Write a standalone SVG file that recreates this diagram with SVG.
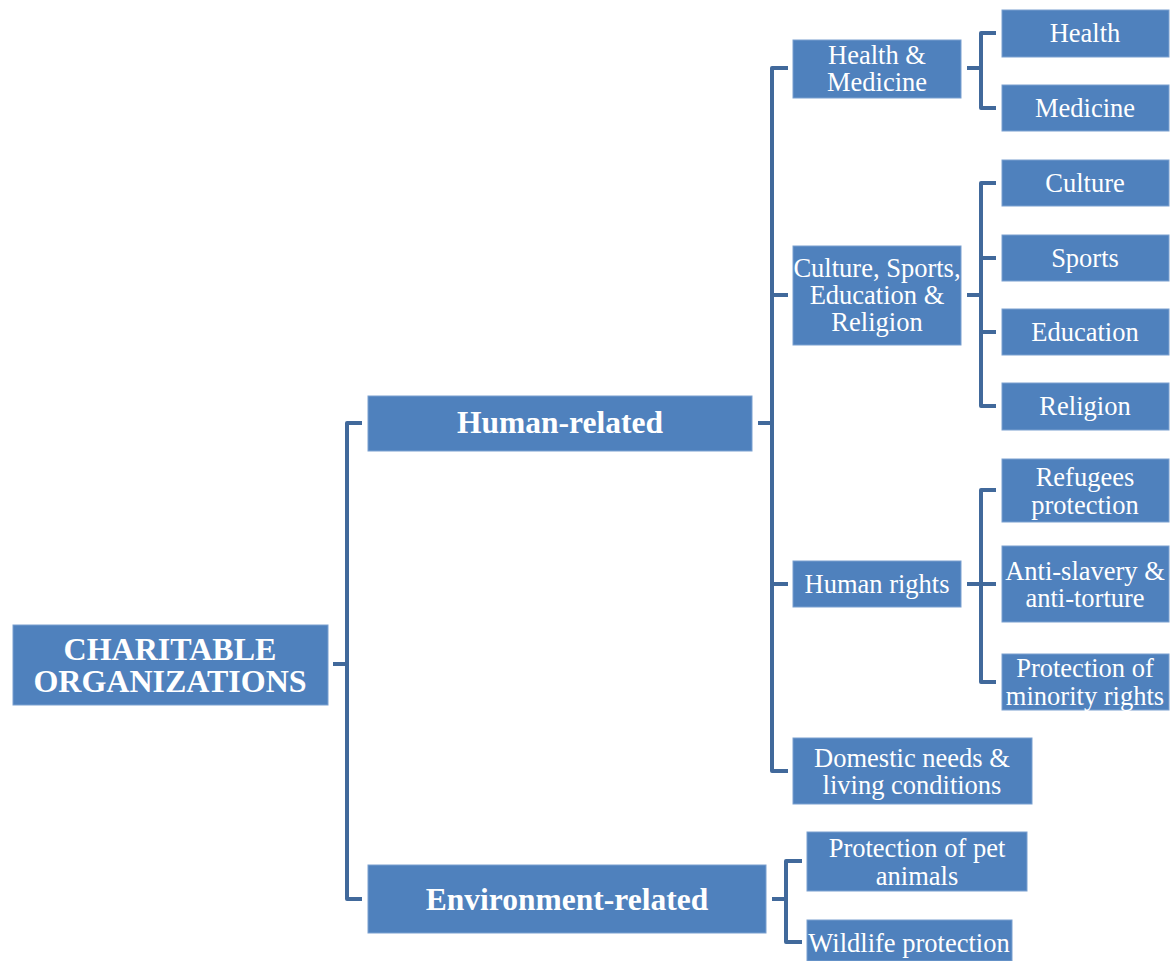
<svg xmlns="http://www.w3.org/2000/svg" width="1176" height="961" viewBox="0 0 1176 961">
<style>
.box{fill:#4f81bd;stroke:#7aa0d0;stroke-width:1}
.t{font-family:"Liberation Serif","Times New Roman",serif;fill:#fff;text-anchor:middle;font-size:26.5px}
.b{font-weight:bold;font-size:31.5px}
.r{font-weight:bold;font-size:32px}
.c{fill:none;stroke:#41699b;stroke-width:4;stroke-linejoin:round}
</style>
<rect width="1176" height="961" fill="#fff"/>
<g id="connectors">
<path class="c" d="M333 664H347M362 423H347V899H362"/>
<path class="c" d="M758 423H772M788 68H772V771H788M772 295H788M772 584H788"/>
<path class="c" d="M772 899H786M802 861H786V942H802"/>
<path class="c" d="M967 68H981M996 33H981V108H996"/>
<path class="c" d="M967 295H981M996 183H981V406H996M981 258H996M981 332H996"/>
<path class="c" d="M967 584H981M996 490H981V682H996M981 584H996"/>
</g>
<g id="root"><rect class="box" x="13" y="625" width="315" height="80"/><text class="t r" x="170" y="660">CHARITABLE</text><text class="t r" x="170" y="692">ORGANIZATIONS</text></g>
<g id="human"><rect class="box" x="368" y="396" width="384" height="55"/><text class="t b" x="560" y="433">Human-related</text></g>
<g id="env"><rect class="box" x="368" y="865" width="398" height="68"/><text class="t b" x="567" y="910">Environment-related</text></g>
<g id="hm"><rect class="box" x="793" y="40" width="168" height="58"/><text class="t" x="877" y="64">Health &amp;</text><text class="t" x="877" y="91">Medicine</text></g>
<g id="cser"><rect class="box" x="793" y="246" width="168" height="99"/><text class="t" x="877" y="277">Culture, Sports,</text><text class="t" x="877" y="304">Education &amp;</text><text class="t" x="877" y="331">Religion</text></g>
<g id="hr"><rect class="box" x="793" y="561" width="168" height="46"/><text class="t" x="877" y="593">Human rights</text></g>
<g id="dom"><rect class="box" x="793" y="738" width="239" height="66"/><text class="t" x="912" y="767">Domestic needs &amp;</text><text class="t" x="912" y="794">living conditions</text></g>
<g id="health"><rect class="box" x="1002" y="10" width="167" height="47"/><text class="t" x="1085" y="42">Health</text></g>
<g id="medicine"><rect class="box" x="1002" y="85" width="167" height="46"/><text class="t" x="1085" y="117">Medicine</text></g>
<g id="culture"><rect class="box" x="1002" y="160" width="167" height="46"/><text class="t" x="1085" y="192">Culture</text></g>
<g id="sports"><rect class="box" x="1002" y="235" width="167" height="46"/><text class="t" x="1085" y="267">Sports</text></g>
<g id="education"><rect class="box" x="1002" y="309" width="167" height="46"/><text class="t" x="1085" y="341">Education</text></g>
<g id="religion"><rect class="box" x="1002" y="383" width="167" height="47"/><text class="t" x="1085" y="415">Religion</text></g>
<g id="refugees"><rect class="box" x="1002" y="459" width="167" height="63"/><text class="t" x="1085" y="486">Refugees</text><text class="t" x="1085" y="514">protection</text></g>
<g id="anti"><rect class="box" x="1002" y="546" width="167" height="76"/><text class="t" x="1085" y="580">Anti-slavery &amp;</text><text class="t" x="1085" y="607">anti-torture</text></g>
<g id="minority"><rect class="box" x="1002" y="654" width="167" height="56"/><text class="t" x="1085" y="677">Protection of</text><text class="t" x="1085" y="705">minority rights</text></g>
<g id="pet"><rect class="box" x="807" y="832" width="220" height="59"/><text class="t" x="917" y="857">Protection of pet</text><text class="t" x="917" y="885">animals</text></g>
<g id="wildlife"><rect class="box" x="807" y="920" width="205" height="41"/><text class="t" x="909" y="952">Wildlife protection</text></g>
</svg>
